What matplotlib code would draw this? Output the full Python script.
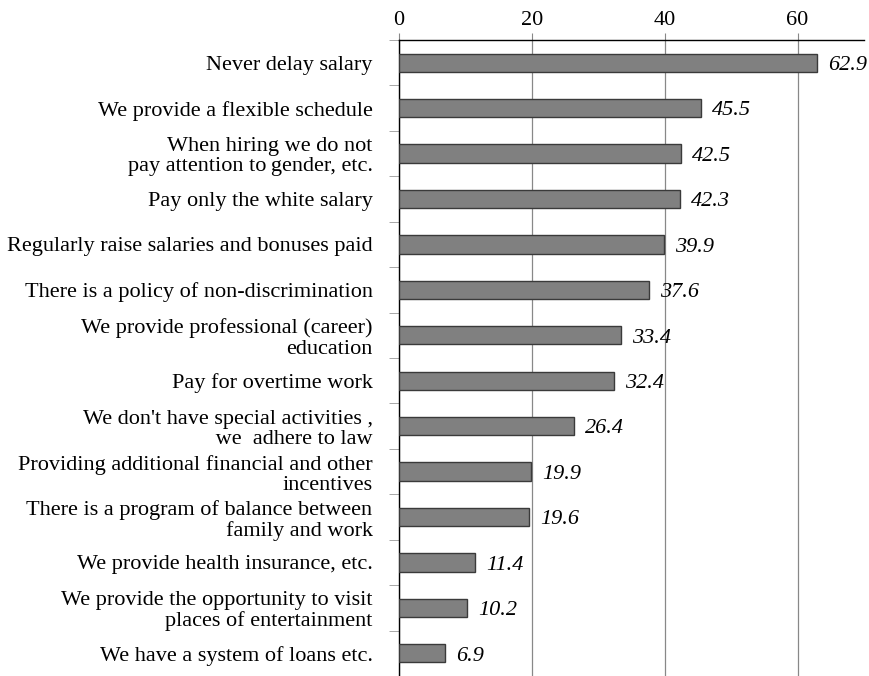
import matplotlib
matplotlib.use("Agg")
import matplotlib.pyplot as plt

categories = [
    "Never delay salary",
    "We provide a flexible schedule",
    "When hiring we do not\npay attention to\u2009gender, etc.",
    "Pay only the white salary",
    "Regularly raise salaries and bonuses paid",
    "There is a policy of non-discrimination",
    "We provide professional (career)\neducation",
    "Pay for overtime work",
    "We don't have special activities ,\n we  adhere to law",
    "Providing additional financial and other\nincentives",
    "There is a program of balance between\nfamily and work",
    "We provide health insurance, etc.",
    "We provide the opportunity to visit\nplaces of entertainment",
    "We have a system of loans etc.",
]
values = [62.9, 45.5, 42.5, 42.3, 39.9, 37.6, 33.4, 32.4, 26.4, 19.9, 19.6, 11.4, 10.2, 6.9]
xticks = [0, 20, 40, 60]

plt.rcParams['font.family'] = ['Liberation Serif', 'DejaVu Serif']

fig = plt.figure(figsize=(8.69, 6.76), dpi=100)
ax = fig.add_axes([399/869, 0.0, (864-399)/869, (676-40)/676])

n = len(categories)
pos = list(range(n))
ax.barh(pos, values, height=0.4, color='#808080', edgecolor='#3a3a3a', linewidth=1.0, zorder=3)
ax.set_ylim(n - 0.5, -0.5)
ax.set_xlim(0, 70)

for p, v in zip(pos, values):
    ax.annotate(f"{v:.1f}", (v, p), xytext=(8, -2), textcoords='offset points',
                ha='left', va='center', fontsize=16, style='italic', zorder=4)

ax.xaxis.tick_top()
ax.set_xticks(xticks)
ax.set_xticklabels([str(t) for t in xticks], fontsize=16)
ax.tick_params(axis='x', length=5, color='#888888', pad=2)
ax.grid(axis='x', color='#888888', linewidth=0.9, zorder=0)

ax.set_yticks(pos)
ax.set_yticklabels(categories, fontsize=16, ha='right', linespacing=1.1)
ax.tick_params(axis='y', which='major', length=0, pad=19)
ax.set_yticks([i + 0.5 for i in range(-1, n - 1)], minor=True)
ax.tick_params(axis='y', which='minor', length=7, color='#999999')

for s in ['right', 'bottom']:
    ax.spines[s].set_visible(False)
ax.spines['left'].set_color('black')
ax.spines['top'].set_color('black')
ax.spines['left'].set_linewidth(1.0)
ax.spines['top'].set_linewidth(1.0)

fig.savefig("out.png", dpi=100)
